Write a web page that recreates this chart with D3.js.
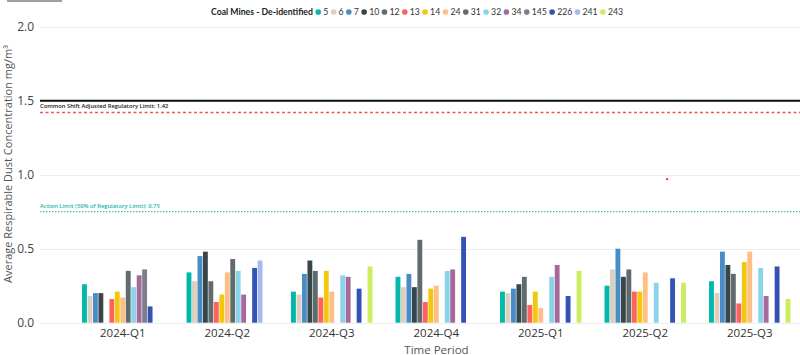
<!DOCTYPE html>
<html><head><meta charset="utf-8">
<script src="https://cdn.jsdelivr.net/npm/d3@7"></script>
<style>
body{margin:0;background:#fff}
svg{display:block;font-family:"Segoe UI","Open Sans","Noto Sans",sans-serif}
</style>
</head><body>
<svg id="c" width="800" height="355"></svg>
<script>
// ---------- DATA ----------
const quarters = ["2024-Q1","2024-Q2","2024-Q3","2024-Q4","2025-Q1","2025-Q2","2025-Q3"];
const mines = ["5","6","7","10","12","13","14","24","31","32","34","145","226","241","243"];
const mineColors = ["#01B8AA","#DFCFBF","#4A8CC6","#374649","#5F6B6D","#FD625E","#F2C80F","#FDBF85","#606C6C","#8AD4EB","#A66999","#7B8088","#3452B4","#A6B8F0","#CCEE5C"];
const s5   = [0.26, 0.34, 0.21, 0.31, 0.21, 0.25, 0.28];
const s6   = [0.18, 0.28, 0.19, 0.24, 0.20, 0.36, 0.20];
const s7   = [0.20, 0.45, 0.33, 0.33, 0.23, 0.50, 0.48];
const s10  = [0.20, 0.48, 0.42, 0.24, 0.26, 0.31, 0.39];
const s12  = [null, 0.28, 0.35, 0.56, 0.31, 0.36, 0.33];
const s13  = [0.16, 0.14, 0.17, 0.14, 0.12, 0.21, 0.13];
const s14  = [0.21, 0.19, 0.35, 0.23, 0.21, 0.21, 0.41];
const s24  = [0.17, 0.34, 0.21, 0.25, 0.10, 0.34, 0.48];
const s31  = [0.35, 0.43, null, null, null, null, null];
const s32  = [0.24, 0.35, 0.32, 0.35, 0.31, 0.27, 0.37];
const s34  = [0.32, 0.19, 0.31, 0.36, 0.39, null, 0.18];
const s145 = [0.36, null, null, null, null, null, null];
const s226 = [0.11, 0.37, 0.23, 0.58, 0.18, 0.30, 0.38];
const s241 = [null, 0.42, null, null, null, null, null];
const s243 = [null, null, 0.38, null, 0.35, 0.27, 0.16];
const seriesValues = [s5,s6,s7,s10,s12,s13,s14,s24,s31,s32,s34,s145,s226,s241,s243];
const yTicks = [0, 0.5, 1.0, 1.5, 2.0];
const refLines = [
  {value:1.5,  label:"",  kind:"solid"},
  {value:1.42, label:"Common Shift Adjusted Regulatory Limit: 1.42", kind:"red"},
  {value:0.75, label:"Action Limit (50% of Regulatory Limit): 0.75", kind:"teal"}
];
const strayPoints = [{quarter:"2025-Q2", mine:"145", value:0.97}];
const legendTitle = "Coal Mines - De-identified";
const xTitle = "Time Period";
const yTitle = "Average Respirable Dust Concentration mg/m³";

// ---------- CHART ----------
const svg = d3.select("#c");
const gridX0 = 40, gridX1 = 800;

const x = d3.scaleBand().domain(quarters).range([70.5, 802]).paddingInner(0.215).paddingOuter(0.1075);
const x1 = d3.scaleBand().domain(mines).range([0, x.bandwidth()]);
const y = d3.scaleLinear().domain([0, 2]).range([322.7, 26.7]);
const color = d3.scaleOrdinal().domain(mines).range(mineColors);

// top-left tab bar
svg.append("rect").attr("x", 7).attr("y", 0).attr("width", 55).attr("height", 2).attr("fill", "#a0a0a0");

// gridlines
svg.append("g").selectAll("line").data(yTicks).join("line")
  .attr("x1", gridX0).attr("x2", gridX1)
  .attr("y1", d => Math.round(y(d)) + 0.5).attr("y2", d => Math.round(y(d)) + 0.5)
  .attr("stroke", "#eeeeee").attr("stroke-width", 1);

// y axis labels
const yAxis = d3.axisLeft(y).tickValues(yTicks).tickFormat(d3.format(".1f")).tickSize(0).tickPadding(0);
const gy = svg.append("g").attr("transform", "translate(34,0)").call(yAxis);
gy.select(".domain").remove();
gy.selectAll("text").attr("font-size", 12).attr("fill", "#444").attr("font-family", "'Segoe UI','Open Sans',sans-serif");

// bars
const table = [];
quarters.forEach((q, qi) => {
  mines.forEach((m, mi) => {
    const v = seriesValues[mi][qi];
    if (v != null) table.push({quarter:q, mine:m, value:v});
  });
});
svg.append("g").selectAll("rect").data(table).join("rect")
  .attr("x", d => x(d.quarter) + x1(d.mine) + 0.3)
  .attr("width", x1.bandwidth() - 0.6)
  .attr("y", d => y(d.value))
  .attr("height", d => y(0) - y(d.value))
  .attr("fill", d => color(d.mine));

// reference lines
refLines.forEach(r => {
  const yy = y(r.value);
  const line = svg.append("line").attr("x1", gridX0).attr("x2", gridX1).attr("y1", yy).attr("y2", yy);
  if (r.kind === "solid") {
    line.attr("stroke", "#111").attr("stroke-width", 2);
  } else if (r.kind === "red") {
    line.attr("stroke", "#F2545B").attr("stroke-width", 1.5).attr("stroke-dasharray", "3,2.5");
    svg.append("text").attr("x", gridX0).attr("y", yy - 4.5).attr("font-size", 5.8).attr("font-weight", 600)
      .attr("fill", "#222").text(r.label);
  } else {
    line.attr("stroke", "#3CC4B8").attr("stroke-width", 1.2).attr("stroke-dasharray", "1.5,1.5");
    svg.append("text").attr("x", gridX0).attr("y", yy - 4).attr("font-size", 5.8).attr("font-weight", 600)
      .attr("fill", "#22B5A8").text(r.label);
  }
});

// stray point
svg.append("g").selectAll("rect").data(strayPoints).join("rect")
  .attr("x", d => x(d.quarter) + x1(d.mine) + x1.bandwidth()/2 - 1)
  .attr("y", d => y(d.value) - 1).attr("width", 2).attr("height", 2).attr("fill", "#E8353B");

// x axis labels
const xAxis = d3.axisBottom(x).tickSize(0).tickPadding(0);
const gx = svg.append("g").attr("transform", "translate(0,329)").call(xAxis);
gx.select(".domain").remove();
gx.selectAll("text").attr("font-size", 11.5).attr("fill", "#333").attr("font-family", "'Segoe UI','Open Sans',sans-serif");

// axis titles
svg.append("text").attr("x", 436.5).attr("y", 353.5).attr("text-anchor", "middle")
  .attr("font-size", 11.5).attr("fill", "#555").text(xTitle);
svg.append("text").attr("transform", "translate(11.5,164) rotate(-90)").attr("text-anchor", "middle")
  .attr("font-size", 11).attr("fill", "#555").text(yTitle);

// legend (fit to reference extent 211..623)
const legX0 = 211, legX1 = 623, titleW = 102;
const lg = svg.append("g").attr("transform", "translate(0,15)").attr("font-family", "Lato,'Open Sans',sans-serif");
const lt = lg.append("text").attr("x", legX0).attr("y", 0).attr("font-size", 11).attr("font-weight", 700)
  .attr("fill", "#222").text(legendTitle);
const fs = 11 * titleW / lt.node().getComputedTextLength();
lt.attr("font-size", fs);
const items = mines.map(m => {
  const t = lg.append("text").attr("y", 0).attr("font-size", fs).attr("fill", "#333").text(m);
  return {m, t, w: t.node().getComputedTextLength()};
});
const dotW = 6, dotGap = 2;
const natural = d3.sum(items, d => dotW + dotGap + d.w);
const gap = (legX1 - (legX0 + titleW) - natural) / items.length;
let lx = legX0 + titleW + gap;
items.forEach(d => {
  lg.append("circle").attr("cx", lx + 3).attr("cy", -fs*0.34).attr("r", 2.8).attr("fill", color(d.m));
  d.t.attr("x", lx + dotW + dotGap);
  lx += dotW + dotGap + d.w + gap;
});
</script>
</body></html>
